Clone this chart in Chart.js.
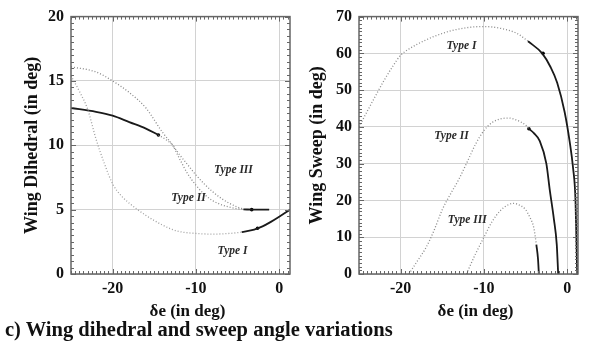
<!DOCTYPE html>
<html>
<head>
<meta charset="utf-8">
<script src="https://cdn.jsdelivr.net/npm/chart.js@4/dist/chart.umd.min.js"></script>
<style>
  html, body { margin: 0; padding: 0; background: #fff; }
  #wrap { position: relative; width: 598px; height: 346px; overflow: hidden; }
  #dih { position: absolute; left: 0; top: 0; }
  #sw { position: absolute; left: 298px; top: 0; }
  #caption {
    position: absolute; left: 5px; top: 318px;
    font: bold 20.5px "Liberation Serif", "Times New Roman", serif;
    color: #111; white-space: nowrap;
  }
</style>
</head>
<body>
<div id="wrap">
  <canvas id="dih" width="298" height="322"></canvas>
  <canvas id="sw" width="300" height="322"></canvas>
  <div id="caption">c) Wing dihedral and sweep angle variations</div>
</div>
<script>
// Wing dihedral vs elevator deflection (left panel)
// Type I: unstable (dotted) then stable (solid)
const DIH1_DOT_X = [-25, -24, -23, -22, -21, -20, -19, -18, -17, -16, -15, -14, -13, -12, -10, -8, -6, -4.5];
const DIH1_DOT_Y = [15.4, 14.2, 12.8, 10.5, 8.6, 7.0, 6.1, 5.5, 5.0, 4.55, 4.15, 3.8, 3.5, 3.3, 3.15, 3.1, 3.15, 3.25];
const DIH1_SOLID_X = [-4.5, -3, -2, -1, 0, 1.3];
const DIH1_SOLID_Y = [3.25, 3.45, 3.7, 4.05, 4.45, 5.0];
// Type II: stable branch on the left, then unstable
const DIH2_SOLID_X = [-25, -22, -20, -18, -16, -14.5];
const DIH2_SOLID_Y = [12.9, 12.6, 12.3, 11.8, 11.3, 10.8];
const DIH2_DOT_X = [-14.5, -13.5, -12.8, -12, -11, -10, -9, -8, -7, -6, -5, -4.3];
const DIH2_DOT_Y = [10.8, 10.4, 10.0, 9.0, 7.8, 6.9, 6.2, 5.7, 5.4, 5.2, 5.07, 5.02];
// Type III
const DIH3_DOT_X = [-25, -22, -20, -18, -16, -14, -13, -12, -11, -10, -9, -8, -7, -6, -5, -4.3];
const DIH3_DOT_Y = [16.1, 15.7, 15.0, 14.1, 12.9, 11.0, 10.2, 9.3, 8.5, 7.7, 7.0, 6.4, 5.9, 5.5, 5.2, 5.05];
const DIH3_SOLID_X = [-4.3, -3, -2, -1.2];
const DIH3_SOLID_Y = [5.02, 5.0, 5.0, 5.0];
// arrow dots on the stable branches
const DIH_MARK_X = [-14.5, -2.6, -3.3];
const DIH_MARK_Y = [10.8, 3.55, 5.0];

// Wing sweep vs elevator deflection (right panel)
const SW1_DOT_X = [-25, -24, -23, -22, -21, -20, -19, -18, -17, -16, -14, -12, -10, -8, -6, -4.7];
const SW1_DOT_Y = [40, 44.3, 48.5, 52.6, 56.3, 59.5, 61.2, 62.5, 63.6, 64.6, 66.1, 67.0, 67.3, 66.8, 65.4, 63.3];
const SW1_SOLID_X = [-4.7, -3, -2, -1.2, -0.3, 0.3, 0.7, 1.0, 1.2];
const SW1_SOLID_Y = [63.3, 60, 56.3, 52, 44, 36, 29, 20, 0];
const SW2_DOT_X = [-19, -18, -17, -16, -15, -14, -13, -12, -11, -10, -9, -8, -7, -6, -5, -4.6];
const SW2_DOT_Y = [0, 3.5, 7, 11.8, 17.5, 21.8, 25.8, 30.5, 35.3, 39, 41.2, 42.2, 42.4, 41.8, 40.5, 39.5];
const SW2_SOLID_X = [-4.6, -4, -3.3, -2.5, -2.1, -1.6, -1.25, -1.08];
const SW2_SOLID_Y = [39.5, 38.3, 36.2, 30, 23, 15, 8, 0];
const SW3_DOT_X = [-12.1, -11, -10, -9, -8, -7, -6.4, -6, -5, -4.5, -4, -3.7];
const SW3_DOT_Y = [0, 5.5, 10, 14.3, 17.3, 18.9, 19.2, 19.0, 17.5, 15.5, 12.5, 8];
const SW3_SOLID_X = [-3.7, -3.5, -3.4];
const SW3_SOLID_Y = [8, 4, 0];
const SW_MARK_X = [-2.9, -4.6];
const SW_MARK_Y = [60, 39.5];

// curve labels
const TYPE_LABELS = ["Type I", "Type II", "Type III"];
const DIH_LABEL_X = [-5.6, -10.9, -5.5];
const DIH_LABEL_Y = [1.8, 5.9, 8.1];
const SW_LABEL_X = [-12.7, -13.9, -12.0];
const SW_LABEL_Y = [61.9, 37.6, 14.6];

// axes
const X_MIN = -25, X_MAX = 1.3;
const X_TICKS = [-20, -10, 0];
const DIH_Y_TICKS = [0, 5, 10, 15, 20];
const SW_Y_TICKS = [0, 10, 20, 30, 40, 50, 60, 70];

const SERIF = '"Liberation Serif", "Times New Roman", serif';
const GRID = "#d2d2d2";
const FRAME = "#666";

function pts(xs, ys) {
    return xs.map((x, i) => ({ x, y: ys[i] }));
}

function dotted(xs, ys, color) {
    return {
        data: pts(xs, ys),
        borderColor: color || "#8a8a8a",
        borderWidth: 1.3,
        borderDash: [1, 2],
        pointRadius: 0,
        cubicInterpolationMode: "monotone",
        showLine: true
    };
}

function solid(xs, ys) {
    return {
        data: pts(xs, ys),
        borderColor: "#1a1a1a",
        borderWidth: 1.8,
        pointRadius: 0,
        cubicInterpolationMode: "monotone",
        showLine: true
    };
}

function marks(xs, ys) {
    return {
        data: pts(xs, ys),
        showLine: false,
        pointRadius: 1.8,
        pointBackgroundColor: "#000",
        pointBorderWidth: 0
    };
}

// Frame with small inward ticks on all four sides, plus the Type labels
// and the x title (it sits a little right of centre in the original).
const framePlugin = {
    id: "frame",
    afterDatasetsDraw(chart, args, o) {
        const { ctx, chartArea: a } = chart;
        const xs = chart.scales.x, ys = chart.scales.y;
        ctx.save();
        ctx.strokeStyle = FRAME;
        ctx.lineWidth = 1;
        ctx.beginPath();
        for (let v = Math.ceil(X_MIN / o.xStep) * o.xStep; v <= X_MAX; v += o.xStep) {
            const px = Math.round(xs.getPixelForValue(v)) + 0.5;
            const len = v % 10 === 0 ? 5 : 3;
            ctx.moveTo(px, a.top); ctx.lineTo(px, a.top + len);
            ctx.moveTo(px, a.bottom); ctx.lineTo(px, a.bottom - len);
        }
        for (let v = ys.min; v <= ys.max + 1e-9; v += o.yStep) {
            const py = Math.round(ys.getPixelForValue(v)) + 0.5;
            const len = Math.abs(v % o.yMajor) < 1e-6 ? 5 : 3;
            ctx.moveTo(a.left, py); ctx.lineTo(a.left + len, py);
            ctx.moveTo(a.right, py); ctx.lineTo(a.right - len, py);
        }
        ctx.stroke();
        ctx.lineWidth = 1.5;
        ctx.strokeRect(a.left, a.top, a.right - a.left, a.bottom - a.top);

        ctx.fillStyle = "#2a2a2a";
        ctx.font = `italic bold 11.5px ${SERIF}`;
        ctx.textAlign = "center";
        ctx.textBaseline = "middle";
        TYPE_LABELS.forEach((t, i) => {
            ctx.fillText(t, xs.getPixelForValue(o.lx[i]), ys.getPixelForValue(o.ly[i]));
        });

        ctx.fillStyle = "#111";
        ctx.font = `bold 17px ${SERIF}`;
        ctx.fillText("δe (in deg)", (a.left + a.right) / 2 + 7, a.bottom + 38);
        ctx.restore();
    }
};

function makeOptions(cfg) {
    return {
        responsive: false,
        animation: false,
        layout: { padding: cfg.padding },
        plugins: {
            legend: { display: false },
            tooltip: { enabled: false },
            frame: { xStep: 0.5, yStep: cfg.yStep, yMajor: cfg.yMajor, lx: cfg.lx, ly: cfg.ly }
        },
        scales: {
            x: {
                type: "linear",
                min: X_MIN,
                max: X_MAX,
                afterBuildTicks: s => { s.ticks = X_TICKS.map(v => ({ value: v })); },
                afterFit: s => { s.height = cfg.xHeight; },
                grid: { color: GRID, lineWidth: 1, drawTicks: false },
                border: { display: false },
                ticks: {
                    color: "#111",
                    padding: 5,
                    maxRotation: 0,
                    font: { family: SERIF, size: 16, weight: "bold" }
                }
            },
            y: {
                min: cfg.yMin,
                max: cfg.yMax,
                afterBuildTicks: s => { s.ticks = cfg.yTicks.map(v => ({ value: v })); },
                afterFit: s => { s.width = cfg.yWidth; },
                grid: { color: GRID, lineWidth: 1, drawTicks: false },
                border: { display: false },
                ticks: {
                    color: "#111",
                    padding: 7,
                    font: { family: SERIF, size: 16, weight: "bold" }
                },
                title: {
                    display: true,
                    text: cfg.yTitle,
                    color: "#111",
                    padding: { top: cfg.titlePad, bottom: 0 },
                    font: { family: SERIF, size: 18, weight: "bold" }
                }
            }
        }
    };
}

new Chart(document.getElementById("dih"), {
    type: "scatter",
    data: {
        datasets: [
            dotted(DIH1_DOT_X, DIH1_DOT_Y, "#a0a0a0"),
            solid(DIH1_SOLID_X, DIH1_SOLID_Y),
            solid(DIH2_SOLID_X, DIH2_SOLID_Y),
            dotted(DIH2_DOT_X, DIH2_DOT_Y),
            dotted(DIH3_DOT_X, DIH3_DOT_Y),
            solid(DIH3_SOLID_X, DIH3_SOLID_Y),
            marks(DIH_MARK_X, DIH_MARK_Y)
        ]
    },
    options: makeOptions({
        padding: { left: 0, top: 15, right: 8, bottom: 0 },
        xHeight: 48, yWidth: 71, titlePad: 22,
        yMin: 0, yMax: 20, yTicks: DIH_Y_TICKS, yStep: 0.5, yMajor: 5,
        yTitle: "Wing Dihedral (in deg)",
        lx: DIH_LABEL_X, ly: DIH_LABEL_Y
    }),
    plugins: [framePlugin]
});

new Chart(document.getElementById("sw"), {
    type: "scatter",
    data: {
        datasets: [
            dotted(SW1_DOT_X, SW1_DOT_Y),
            solid(SW1_SOLID_X, SW1_SOLID_Y),
            dotted(SW2_DOT_X, SW2_DOT_Y),
            solid(SW2_SOLID_X, SW2_SOLID_Y),
            dotted(SW3_DOT_X, SW3_DOT_Y),
            solid(SW3_SOLID_X, SW3_SOLID_Y),
            marks(SW_MARK_X, SW_MARK_Y)
        ]
    },
    options: makeOptions({
        padding: { left: 0, top: 15, right: 20, bottom: 0 },
        xHeight: 48, yWidth: 61, titlePad: 9,
        yMin: 0, yMax: 70, yTicks: SW_Y_TICKS, yStep: 1, yMajor: 10,
        yTitle: "Wing Sweep (in deg)",
        lx: SW_LABEL_X, ly: SW_LABEL_Y
    }),
    plugins: [framePlugin]
});
</script>
</body>
</html>
